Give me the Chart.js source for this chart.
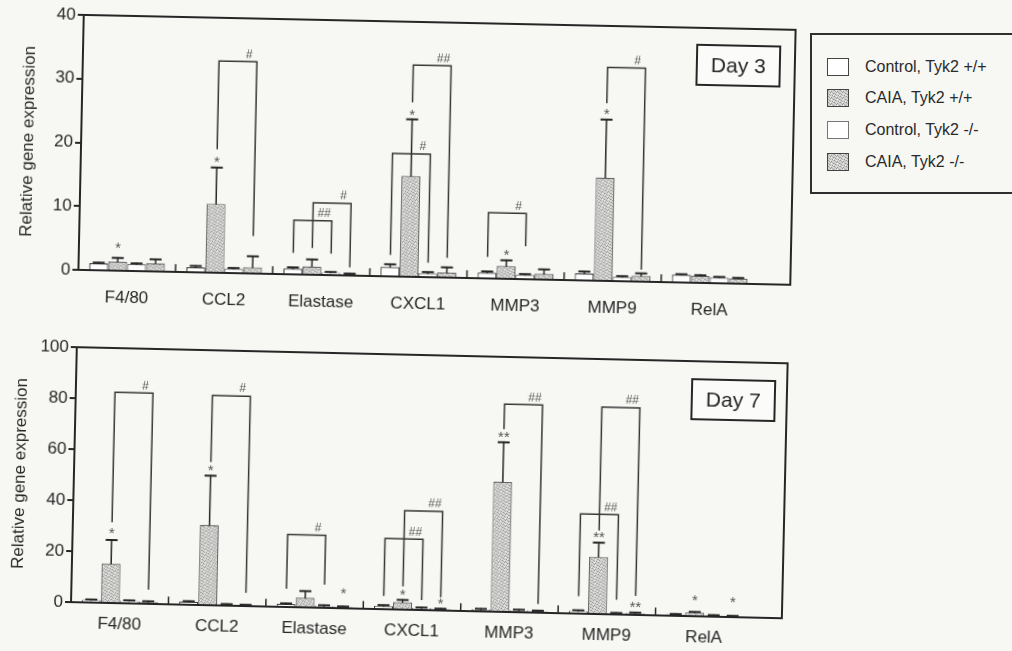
<!DOCTYPE html>
<html>
<head>
<meta charset="utf-8">
<script src="https://cdn.jsdelivr.net/npm/chart.js@4.4.1/dist/chart.umd.min.js"></script>
<style>
body { margin:0; width:1012px; height:651px; background:#f7f7f4; overflow:hidden; position:relative; font-family:"Liberation Sans", Arial, sans-serif; }
.panel { position:absolute; left:0; width:800px; }
#wrap3 { top:0; height:315px; transform-origin:420px 150px; transform:rotate(1.2deg); }
#wrap7 { top:330px; height:321px; transform-origin:420px 145px; transform:rotate(1.3deg); }
.legend { position:absolute; left:810px; top:33px; width:215px; height:161px; border:2px solid #2f2f2f; box-sizing:border-box; }
.legend div { position:absolute; left:15px; height:18px; line-height:18px; font-size:16px; color:#2a2a2a; padding-left:38px; white-space:nowrap; }
.legend span { position:absolute; left:0; top:0; width:22px; height:18px; border:1.5px solid #444; box-sizing:border-box; background:#fff; }
</style>
</head>
<body>
<div class="panel" id="wrap3"><canvas id="day3" width="800" height="315"></canvas></div>
<div class="panel" id="wrap7"><canvas id="day7" width="800" height="321"></canvas></div>
<div class="legend" id="legend"></div>

<script>
// categories and groups
const genes = ['F4/80', 'CCL2', 'Elastase', 'CXCL1', 'MMP3', 'MMP9', 'RelA'];
const groupNames = ['Control, Tyk2 +/+', 'CAIA, Tyk2 +/+', 'Control, Tyk2 -/-', 'CAIA, Tyk2 -/-'];

// day 3 means and SD
const day3CtrlWT = [1.1, 0.8, 0.9, 1.5, 0.9, 1.1, 1.2];
const day3CaiaWT = [1.4, 10.8, 1.3, 15.8, 2.0, 16.2, 1.1];
const day3CtrlKO = [1.1, 0.7, 0.4, 0.6, 0.7, 0.7, 0.9];
const day3CaiaKO = [1.3, 1.0, 0.2, 0.8, 0.9, 0.9, 0.8];
const day3CtrlWTSd = [0.1, 0.2, 0.2, 0.4, 0.2, 0.3, 0.1];
const day3CaiaWTSd = [0.6, 5.7, 1.1, 8.9, 0.9, 9.1, 0.1];
const day3CtrlKOSd = [0.1, 0.1, 0.1, 0.2, 0.1, 0.1, 0.1];
const day3CaiaKOSd = [0.6, 1.7, 0.1, 0.8, 0.7, 0.4, 0.1];
const day3Ticks = [0, 10, 20, 30, 40];

// day 7 means and SD
const day7CtrlWT = [1.0, 1.2, 1.2, 1.3, 0.8, 1.0, 0.6];
const day7CaiaWT = [15.5, 31.5, 3.8, 2.9, 51.0, 22.5, 1.5];
const day7CtrlKO = [1.0, 0.5, 0.8, 0.8, 0.8, 0.5, 0.5];
const day7CaiaKO = [0.8, 0.4, 0.6, 0.6, 0.6, 0.7, 0.4];
const day7CtrlWTSd = [0.2, 0.2, 0.2, 0.3, 0.2, 0.3, 0.1];
const day7CaiaWTSd = [9.2, 19.3, 2.6, 0.9, 15.5, 5.5, 0.2];
const day7CtrlKOSd = [0.2, 0.1, 0.2, 0.2, 0.2, 0.1, 0.1];
const day7CaiaKOSd = [0.2, 0.1, 0.1, 0.1, 0.2, 0.2, 0.1];
const day7Ticks = [0, 20, 40, 60, 80, 100];

// brackets: [gene, from group, to group, top, left foot, right foot, label]
const day3Brackets = [
    [1, 1, 3, 33.2, 19.5, 6.0, '#'],
    [2, 0, 2, 8.5, 3.5, 3.5, '##'],
    [2, 1, 3, 11.3, 4.3, 1.4, '#'],
    [3, 0, 2, 19.3, 3.5, 2.4, '#'],
    [3, 1, 3, 33.2, 27.5, 3.2, '##'],
    [4, 0, 2, 10.3, 3.5, 5.3, '#'],
    [5, 1, 3, 33.5, 28.0, 2.0, '#']
];
const day7Brackets = [
    [0, 1, 3, 82.6, 32.0, 5.9, '#'],
    [1, 1, 3, 82.3, 56.5, 5.5, '#'],
    [2, 0, 2, 28.4, 7.5, 9.4, '#'],
    [3, 0, 2, 27.7, 5.5, 4.2, '##'],
    [3, 1, 3, 38.8, 9.4, 5.5, '##'],
    [4, 1, 3, 81.5, 72.0, 3.7, '##'],
    [5, 1, 3, 81.2, 33.0, 7.7, '##'],
    [5, 0, 2, 39.1, 7.2, 6.1, '##']
];
// significance marks: [gene, group, level, text]
const day3Stars = [[0, 1, 3.8, '*'], [1, 1, 17.6, '*'], [3, 1, 25.6, '*'], [4, 1, 4.0, '*'], [5, 1, 26.3, '*']];
const day7Stars = [[0, 1, 28, '*'], [1, 1, 53.5, '*'], [2, 3, 6.5, '*'], [3, 1, 6.5, '*'], [3, 3, 3.2, '*'],
    [4, 1, 69, '**'], [5, 1, 30.5, '**'], [5, 3, 3.6, '**'], [6, 1, 6.6, '*'], [6, 3, 6.4, '*']];

const fontFamily = '"Liberation Sans", Arial, sans-serif';
const ink = '#262626';

// stippled grey tile for the CAIA bars
function dotTile() {
    const c = document.createElement('canvas');
    c.width = 6; c.height = 6;
    const g = c.getContext('2d');
    g.fillStyle = '#d3d3d1';
    g.fillRect(0, 0, 6, 6);
    g.fillStyle = '#979795';
    [[0, 0], [3, 1], [5, 3], [1, 4], [4, 5], [2, 2]].forEach(function(p) { g.fillRect(p[0], p[1], 1, 1); });
    g.fillStyle = '#b5b5b3';
    [[1, 1], [4, 2], [0, 3], [2, 5], [5, 0]].forEach(function(p) { g.fillRect(p[0], p[1], 1, 1); });
    g.fillStyle = '#ececea';
    [[3, 3], [5, 5], [2, 0]].forEach(function(p) { g.fillRect(p[0], p[1], 1, 1); });
    return c;
}
const greyTile = dotTile();

// error bars, brackets, stars, frame and day box
const figureMarks = {
    id: 'figureMarks',
    afterDatasetsDraw(chart, args, opts) {
        const ctx = chart.ctx;
        const area = chart.chartArea;
        const y = chart.scales.y;
        const x = chart.scales.x;
        const frameRight = area.right + opts.extraRight;
        ctx.save();
        ctx.strokeStyle = ink;
        ctx.lineCap = 'square';

        // error bars (upper only)
        chart.data.datasets.forEach(function(ds, i) {
            const meta = chart.getDatasetMeta(i);
            meta.data.forEach(function(bar, j) {
                const top = y.getPixelForValue(ds.data[j] + ds.sd[j]);
                ctx.lineWidth = 1.5;
                ctx.beginPath();
                ctx.moveTo(bar.x, bar.y);
                ctx.lineTo(bar.x, top);
                ctx.stroke();
                ctx.lineWidth = 2;
                ctx.beginPath();
                ctx.moveTo(bar.x - 5, top);
                ctx.lineTo(bar.x + 5, top);
                ctx.stroke();
            });
        });

        // small marks between gene groups
        ctx.lineWidth = 1.5;
        for (let i = 0; i < chart.data.labels.length - 1; i++) {
            const xm = (x.getPixelForValue(i) + x.getPixelForValue(i + 1)) / 2;
            ctx.beginPath();
            ctx.moveTo(xm, area.bottom);
            ctx.lineTo(xm, area.bottom - 7);
            ctx.stroke();
        }

        // brackets
        ctx.lineWidth = 1.5;
        ctx.strokeStyle = '#363636';
        opts.brackets.forEach(function(b) {
            const x1 = chart.getDatasetMeta(b[1]).data[b[0]].x;
            const x2 = chart.getDatasetMeta(b[2]).data[b[0]].x;
            const yt = y.getPixelForValue(b[3]);
            ctx.beginPath();
            ctx.moveTo(x1, y.getPixelForValue(b[4]));
            ctx.lineTo(x1, yt);
            ctx.lineTo(x2, yt);
            ctx.lineTo(x2, y.getPixelForValue(b[5]));
            ctx.stroke();
            ctx.fillStyle = '#555';
            ctx.font = 'italic 12px ' + fontFamily;
            ctx.textAlign = 'center';
            ctx.textBaseline = 'bottom';
            ctx.fillText(b[6], x2 - 8, yt - 1);
        });

        // asterisks
        ctx.fillStyle = '#555';
        ctx.font = '15px ' + fontFamily;
        ctx.textAlign = 'center';
        ctx.textBaseline = 'middle';
        opts.stars.forEach(function(s) {
            const bx = chart.getDatasetMeta(s[1]).data[s[0]].x;
            ctx.fillText(s[3], bx, y.getPixelForValue(s[2]) + 2);
        });

        // plot frame
        ctx.strokeStyle = ink;
        ctx.lineWidth = 2;
        ctx.strokeRect(area.left, area.top, frameRight - area.left, area.bottom - area.top);

        // day label box
        const bw = 83, bh = 40;
        const bx = frameRight - opts.boxInset - bw;
        const by = area.top + opts.boxTop;
        ctx.fillStyle = '#fbfbf9';
        ctx.fillRect(bx, by, bw, bh);
        ctx.strokeRect(bx, by, bw, bh);
        ctx.fillStyle = ink;
        ctx.font = '21px ' + fontFamily;
        ctx.textAlign = 'center';
        ctx.textBaseline = 'middle';
        ctx.fillText(opts.day, bx + bw / 2, by + bh / 2 + 1);
        ctx.restore();
    }
};

function buildChart(canvasId, series, sds, ticks, marks, pad) {
    const ctx = document.getElementById(canvasId).getContext('2d');
    const grey = ctx.createPattern(greyTile, 'repeat');
    const fills = ['#ffffff', grey, '#fdfdfd', grey];
    const borders = ['#3a3a3a', '#666', '#777', '#666'];
    return new Chart(ctx, {
        type: 'bar',
        data: {
            labels: genes,
            datasets: series.map(function(d, i) {
                return {
                    label: groupNames[i],
                    data: d,
                    sd: sds[i],
                    backgroundColor: fills[i],
                    borderColor: borders[i],
                    borderWidth: 1.2,
                    barPercentage: 1,
                    categoryPercentage: 0.78
                };
            })
        },
        options: {
            responsive: false,
            animation: false,
            devicePixelRatio: 1,
            layout: { padding: pad.layout },
            plugins: {
                legend: { display: false },
                tooltip: { enabled: false },
                figureMarks: marks
            },
            scales: {
                x: {
                    grid: { display: false, drawTicks: false },
                    border: { display: false },
                    ticks: { color: ink, font: { family: fontFamily, size: 17 }, padding: pad.labelGap, maxRotation: 0 },
                    afterFit: function(s) { s.height = 35; }
                },
                y: {
                    min: 0,
                    max: ticks[ticks.length - 1],
                    afterBuildTicks: function(s) { s.ticks = ticks.map(function(v) { return { value: v }; }); },
                    grid: { drawOnChartArea: false, tickLength: 6, color: ink, lineWidth: 2 },
                    border: { color: ink, width: 2 },
                    ticks: { color: ink, font: { family: fontFamily, size: 17 }, padding: 2 },
                    title: {
                        display: true,
                        text: 'Relative gene expression',
                        color: ink,
                        font: { family: fontFamily, size: 17 },
                        padding: { top: pad.titleGap, bottom: 0 }
                    },
                    afterFit: function(s) { s.width = pad.axisWidth; }
                }
            }
        },
        plugins: [figureMarks]
    });
}

const day3Chart = buildChart('day3',
    [day3CtrlWT, day3CaiaWT, day3CtrlKO, day3CaiaKO],
    [day3CtrlWTSd, day3CaiaWTSd, day3CtrlKOSd, day3CaiaKOSd],
    day3Ticks,
    { brackets: day3Brackets, stars: day3Stars, day: 'Day 3', extraRight: 32, boxInset: 15, boxTop: 17 },
    { layout: { left: 0, top: 22, right: 39, bottom: 3 }, axisWidth: 81, labelGap: 17, titleGap: 18 });

const day7Chart = buildChart('day7',
    [day7CtrlWT, day7CaiaWT, day7CtrlKO, day7CaiaKO],
    [day7CtrlWTSd, day7CaiaWTSd, day7CtrlKOSd, day7CaiaKOSd],
    day7Ticks,
    { brackets: day7Brackets, stars: day7Stars, day: 'Day 7', extraRight: 29, boxInset: 12, boxTop: 18 },
    { layout: { left: 0, top: 25, right: 44, bottom: 6 }, axisWidth: 74, labelGap: 11, titleGap: 10 });

// legend box
const legend = document.getElementById('legend');
const tileUrl = 'url(' + greyTile.toDataURL() + ')';
const rowTops = [23, 54, 86, 118];
groupNames.forEach(function(name, i) {
    const row = document.createElement('div');
    row.style.top = rowTops[i] + 'px';
    const sw = document.createElement('span');
    if (i % 2 === 1) sw.style.backgroundImage = tileUrl;
    if (i === 2) sw.style.borderColor = '#777';
    row.appendChild(sw);
    row.appendChild(document.createTextNode(name));
    legend.appendChild(row);
});
</script>
</body>
</html>
